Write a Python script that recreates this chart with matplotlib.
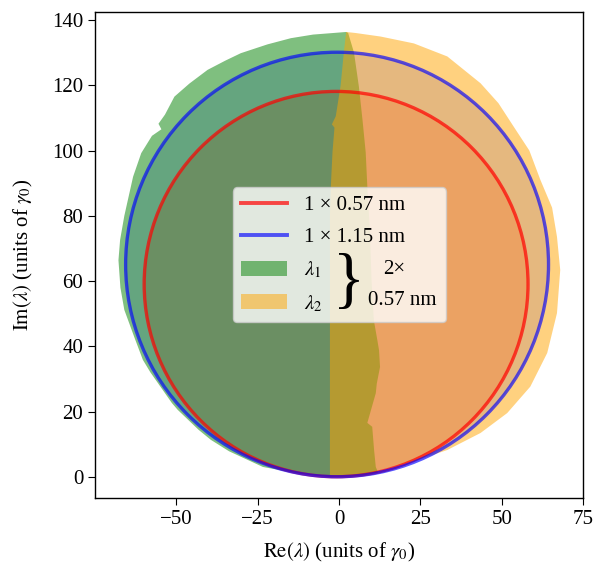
import numpy as np
import matplotlib.pyplot as plt
from matplotlib.patches import Circle, Polygon, Patch
from matplotlib.lines import Line2D

plt.rcParams['font.family'] = ['Liberation Serif', 'DejaVu Serif']
plt.rcParams['mathtext.fontset'] = 'stix'
plt.rcParams['font.size'] = 15
plt.rcParams['axes.linewidth'] = 1.0

# circles (centre x, centre y, radius), units of gamma_0
red_circle = (-0.9, 59.1, 59.0)
blue_circle = (-0.6, 65.1, 65.0)

# outline of the lambda_1 region
green_x = [12.0, 8.0, 3.0, -3.0, -12.0, -23.4, -33.8, -39.4, -43.2, -49.6,
           -51.4, -58.0, -60.3, -62.8, -66.0, -67.2, -67.8, -67.3, -66.0, -64.9,
           -63.3, -60.8, -57.5, -54.6, -55.5, -53.5, -50.6, -46.0, -40.4, -35.0,
           -30.2, -22.0, -14.8, -8.0, -1.6, 2.2, 2.8, 4.6, 6.1, 7.2,
           8.2, 8.7, 9.5, 10.0, 10.7, 11.8, 12.3, 12.6, 11.6, 11.3,
           8.7, 10.2, 10.8, 11.3]
green_y = [1.4, 0.6, 0.1, 0.0, 1.0, 3.1, 7.9, 11.4, 14.5, 20.6,
           22.7, 32.1, 35.9, 42.5, 51.2, 58.0, 66.4, 72.6, 80.0, 84.9,
           92.0, 99.2, 104.5, 106.5, 108.2, 111.0, 116.5, 120.5, 124.7, 127.5,
           129.8, 132.5, 134.4, 135.5, 136.0, 136.3, 136.0, 130.0, 119.6, 109.5,
           99.4, 88.9, 75.0, 60.0, 48.0, 41.8, 38.8, 33.7, 28.6, 25.7,
           16.6, 15.4, 8.0, 3.1]

# outline of the lambda_2 region
orange_x = [2.2, 1.5, 0.5, -1.0, -2.2, -1.4, -2.0, -2.5, -2.8, -2.8,
            3.0, 8.0, 12.8, 23.0, 33.3, 43.5, 51.7, 58.8, 64.0, 67.0,
            68.0, 67.0, 65.5, 61.9, 58.5, 53.7, 49.0, 43.5, 33.3, 23.0,
            12.8, 5.0]
orange_y = [136.3, 130.3, 120.0, 110.5, 108.0, 107.0, 99.7, 89.4, 80.0, 0.0,
            0.1, 0.6, 2.2, 4.8, 8.3, 13.5, 19.6, 27.7, 38.0, 50.2,
            63.4, 73.6, 82.5, 91.0, 100.0, 107.3, 114.5, 120.6, 128.8, 132.8,
            134.9, 136.0]

xticks = [-50, -25, 0, 25, 50, 75]
yticks = [0, 20, 40, 60, 80, 100, 120, 140]

fig = plt.figure(figsize=(5.94, 5.72), dpi=100)
ax = fig.add_axes([0.160, 0.1294, 0.8215, 0.8501])

# faint tint under the regions
ax.add_patch(Circle(blue_circle[:2], blue_circle[2], facecolor='blue', alpha=0.2,
                    edgecolor='none', zorder=1))
ax.add_patch(Circle(red_circle[:2], red_circle[2], facecolor='red', alpha=0.22,
                    edgecolor='none', zorder=1))

ax.add_patch(Polygon(np.column_stack([green_x, green_y]), closed=True,
                     facecolor='green', alpha=0.5, edgecolor='none', zorder=2))
ax.add_patch(Polygon(np.column_stack([orange_x, orange_y]), closed=True,
                     facecolor='orange', alpha=0.5, edgecolor='none', zorder=2))

ax.add_patch(Circle(red_circle[:2], red_circle[2], fill=False, edgecolor='red',
                    alpha=0.7, lw=2.4, zorder=3))
ax.add_patch(Circle(blue_circle[:2], blue_circle[2], fill=False, edgecolor='blue',
                    alpha=0.65, lw=2.4, zorder=3))

ax.set_xlim(-75, 75)
ax.set_ylim(-6.4, 142.5)
ax.set_xticks(xticks)
ax.set_yticks(yticks)
ax.tick_params(direction='out', length=5, top=False, right=False)
ax.set_xlabel(r'$\mathrm{Re}(\lambda)$ (units of $\gamma_0$)', labelpad=9)
ax.set_ylabel(r'$\mathrm{Im}(\lambda)$ (units of $\gamma_0$)', labelpad=12)

handles = [Line2D([], [], color='red', alpha=0.7, lw=2.8),
           Line2D([], [], color='blue', alpha=0.65, lw=2.8),
           Patch(facecolor='green', alpha=0.5),
           Patch(facecolor='orange', alpha=0.5)]
labels = ['1 × 0.57 nm', '1 × 1.15 nm', r'$\lambda_1$', r'$\lambda_2$']
ax.legend(handles, labels, loc='center', mode='expand', borderaxespad=0,
          bbox_to_anchor=(0.283, 0.363, 0.436, 0.274),
          handlelength=2.2, labelspacing=0.6)

ax.text(3.2, 59.3, '}', fontsize=48, ha='center', va='center', zorder=6)
ax.text(17.0, 63.7, '2×', ha='center', va='center', zorder=6)
ax.text(19.5, 54.2, '0.57 nm', ha='center', va='center', zorder=6)

fig.savefig('out.png', dpi=100)
